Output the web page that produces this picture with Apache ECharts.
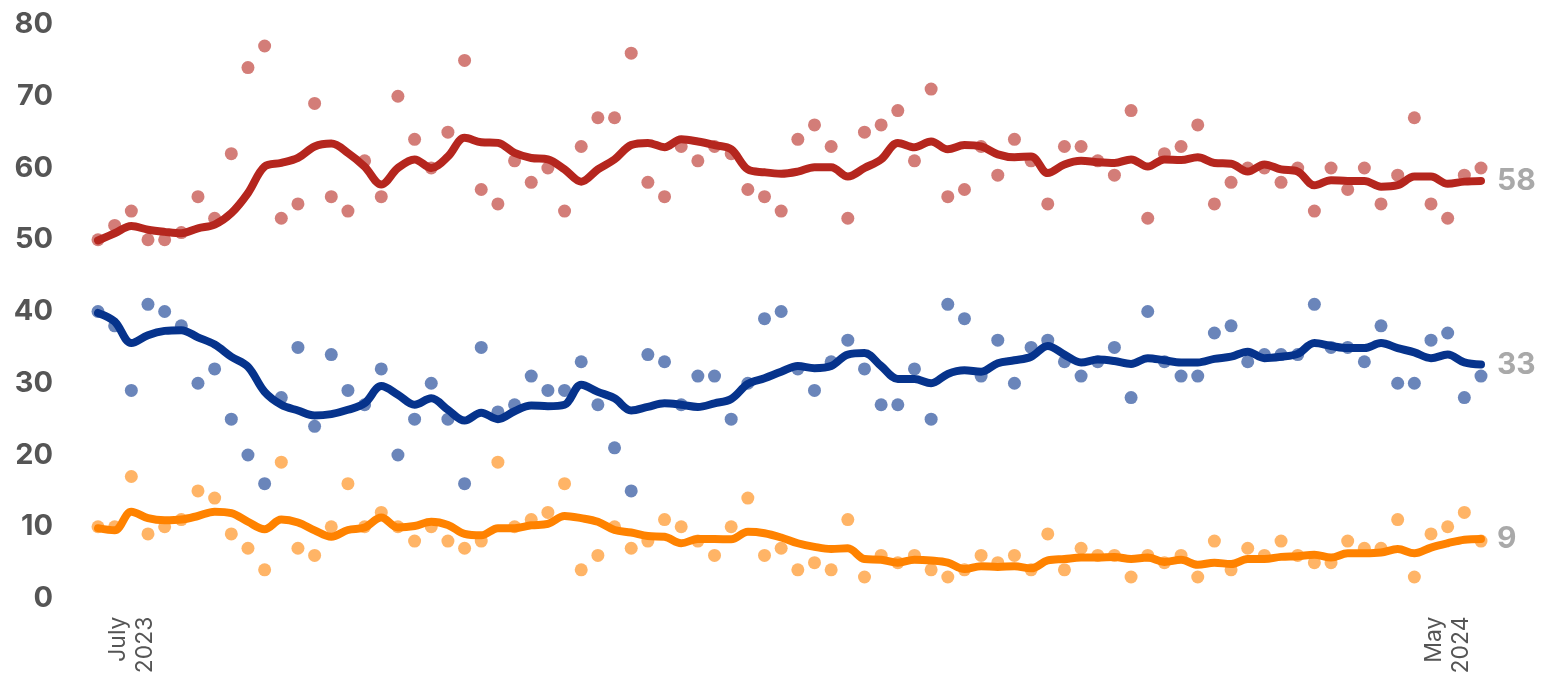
<!DOCTYPE html>
<html>
<head>
<meta charset="utf-8">
<script src="https://cdn.jsdelivr.net/npm/echarts@6/dist/echarts.min.js"></script>
<style>
html,body{margin:0;padding:0;background:#ffffff;}
#chart{width:1552px;height:675px;}
</style>
</head>
<body>
<div id="chart"></div>
<script>
// Poll dates (categories)
const dates = [
"2023-06-23","2023-06-27","2023-07-01","2023-07-05","2023-07-09","2023-07-13","2023-07-17","2023-07-21","2023-07-25","2023-07-28",
"2023-08-01","2023-08-05","2023-08-09","2023-08-13","2023-08-17","2023-08-21","2023-08-24","2023-08-28","2023-09-01","2023-09-05",
"2023-09-09","2023-09-13","2023-09-17","2023-09-20","2023-09-24","2023-09-28","2023-10-02","2023-10-06","2023-10-10","2023-10-14",
"2023-10-17","2023-10-21","2023-10-25","2023-10-29","2023-11-02","2023-11-06","2023-11-10","2023-11-13","2023-11-17","2023-11-21",
"2023-11-25","2023-11-29","2023-12-03","2023-12-07","2023-12-10","2023-12-14","2023-12-18","2023-12-22","2023-12-26","2023-12-30",
"2024-01-03","2024-01-06","2024-01-10","2024-01-14","2024-01-18","2024-01-22","2024-01-26","2024-01-30","2024-02-02","2024-02-06",
"2024-02-10","2024-02-14","2024-02-18","2024-02-22","2024-02-26","2024-02-29","2024-03-04","2024-03-08","2024-03-12","2024-03-16",
"2024-03-20","2024-03-24","2024-03-27","2024-03-31","2024-04-04","2024-04-08","2024-04-12","2024-04-16","2024-04-20","2024-04-23",
"2024-04-27","2024-05-01","2024-05-05","2024-05-09"
];

// X tick labels (date -> label)
const xTickLabels = { "2023-07-01": "July\n2023", "2024-05-01": "May\n2024" };

// Y axis ticks
const yMin = 0, yMax = 80, yStep = 10;

// Individual polls
const redPolls = [
50,52,54,50,50,51,56,53,62,74,
77,53,55,69,56,54,61,56,70,64,
60,65,75,57,55,61,58,60,54,63,
67,67,76,58,56,63,61,63,62,57,
56,54,64,66,63,53,65,66,68,61,
71,56,57,63,59,64,61,55,63,63,
61,59,68,53,62,63,66,55,58,60,
60,58,60,54,60,57,60,55,59,67,
55,53,59,60
];
const bluePolls = [
40,38,29,41,40,38,30,32,25,20,
16,28,35,24,34,29,27,32,20,25,
30,25,16,35,26,27,31,29,29,33,
27,21,15,34,33,27,31,31,25,30,
39,40,32,29,33,36,32,27,27,32,
25,41,39,31,36,30,35,36,33,31,
33,35,28,40,33,31,31,37,38,33,
34,34,34,41,35,35,33,38,30,30,
36,37,28,31
];
const orangePolls = [
10,10,17,9,10,11,15,14,9,7,
4,19,7,6,10,16,10,12,10,8,
10,8,7,8,19,10,11,12,16,4,
6,10,7,8,11,10,8,6,10,14,
6,7,4,5,4,11,3,6,5,6,
4,3,4,6,5,6,4,9,4,7,
6,6,3,6,5,6,3,8,4,7,
6,8,6,5,5,8,7,7,11,3,
9,10,12,8
];

// Trend lines
const redTrend = [
49.9,50.9,51.9,51.4,51.1,50.9,51.6,52.1,53.7,56.5,
60.2,60.7,61.4,63.0,63.4,62.1,60.2,57.7,60.0,61.2,
60.0,61.6,64.2,63.6,63.5,62.1,61.4,61.2,59.8,58.1,
59.8,61.2,63.2,63.5,62.9,64.0,63.7,63.2,62.6,59.8,
59.4,59.2,59.5,60.1,60.1,58.8,60.0,61.2,63.5,62.9,
63.7,62.6,63.2,63.0,61.9,61.5,61.6,59.3,60.5,61.0,
60.8,60.7,61.2,60.2,61.2,61.1,61.5,60.7,60.6,59.5,
60.5,59.8,59.5,57.6,58.3,58.2,58.2,57.4,57.6,58.8,
58.8,57.8,58.1,58.2
];
const blueTrend = [
39.8,38.6,35.6,36.7,37.3,37.4,36.4,35.4,33.7,32.3,
28.8,27.0,26.2,25.5,25.7,26.3,27.2,29.6,28.4,27.0,
27.9,26.3,24.8,25.9,25.0,26.1,26.9,26.8,27.0,29.8,
28.8,27.9,26.2,26.7,27.2,27.0,26.7,27.2,27.8,29.9,
30.7,31.6,32.4,32.1,32.4,34.0,34.2,32.4,30.6,30.6,
30.0,31.3,31.8,31.6,32.8,33.2,33.7,35.2,34.0,32.9,
33.3,33.1,32.7,33.5,33.2,32.9,32.9,33.4,33.7,34.4,
33.5,33.7,34.1,35.6,35.2,34.9,34.9,35.6,34.9,34.3,
33.5,34.0,32.9,32.6
];
const orangeTrend = [
9.8,9.5,12.1,11.2,10.9,11.0,11.5,12.1,11.9,10.7,
9.65,11.0,10.6,9.5,8.6,9.55,9.9,11.3,9.9,10.1,
10.7,10.25,9.0,8.8,9.8,9.8,10.2,10.4,11.5,11.2,
10.7,9.55,9.2,8.7,8.6,7.7,8.3,8.3,8.25,9.3,
9.1,8.5,7.7,7.2,6.9,7.0,5.5,5.4,5.0,5.4,
5.3,5.0,4.1,4.5,4.4,4.5,4.2,5.3,5.5,5.7,
5.7,5.8,5.5,5.7,5.1,5.4,4.7,5.0,4.8,5.5,
5.5,5.8,5.9,6.1,5.7,6.3,6.3,6.4,6.9,6.3,
7.1,7.7,8.2,8.3
];

// End-of-line labels
const endLabelTexts = ["58", "33", "9"];

const colors = ["#B5261E", "#06338C", "#FF8200"];
const FONT = "Inter, 'DejaVu Sans', sans-serif";

const pollSets = [redPolls, bluePolls, orangePolls];
const trendSets = [redTrend, blueTrend, orangeTrend];

const series = [];
pollSets.forEach((d, i) => {
  series.push({
    type: 'scatter',
    data: d,
    symbolSize: 13,
    itemStyle: { color: colors[i], opacity: 0.6 },
    z: 2,
    silent: true
  });
});
trendSets.forEach((d, i) => {
  series.push({
    type: 'line',
    data: d,
    smooth: 0.35,
    showSymbol: false,
    symbol: 'none',
    lineStyle: { color: colors[i], width: 8, cap: 'round', join: 'round' },
    z: 3,
    silent: true,
    endLabel: {
      show: true,
      formatter: () => endLabelTexts[i],
      color: '#A9A9A9',
      fontFamily: FONT,
      fontWeight: 'bold',
      fontSize: 30,
      distance: 16
    }
  });
});

const chart = echarts.init(document.getElementById('chart'), null, { renderer: 'canvas' });
chart.setOption({
  animation: false,
  backgroundColor: '#ffffff',
  grid: { left: 98, right: 71, top: 24.5, bottom: 76.5, containLabel: false, outerBoundsMode: 'none' },
  xAxis: {
    type: 'category',
    data: dates,
    boundaryGap: false,
    axisLine: { show: false },
    axisTick: { show: false },
    splitLine: { show: false },
    axisLabel: {
      rotate: 90,
      margin: 18,
      interval: (idx, val) => Object.prototype.hasOwnProperty.call(xTickLabels, val),
      formatter: (val) => xTickLabels[val] || '',
      color: '#555555',
      fontFamily: FONT,
      fontSize: 23,
      lineHeight: 27
    }
  },
  yAxis: {
    type: 'value',
    min: yMin,
    max: yMax,
    interval: yStep,
    axisLine: { show: false },
    axisTick: { show: false },
    splitLine: { show: false },
    axisLabel: {
      margin: 45,
      color: '#555555',
      fontFamily: FONT,
      fontWeight: 'bold',
      fontSize: 29
    }
  },
  series: series
});
</script>
</body>
</html>
